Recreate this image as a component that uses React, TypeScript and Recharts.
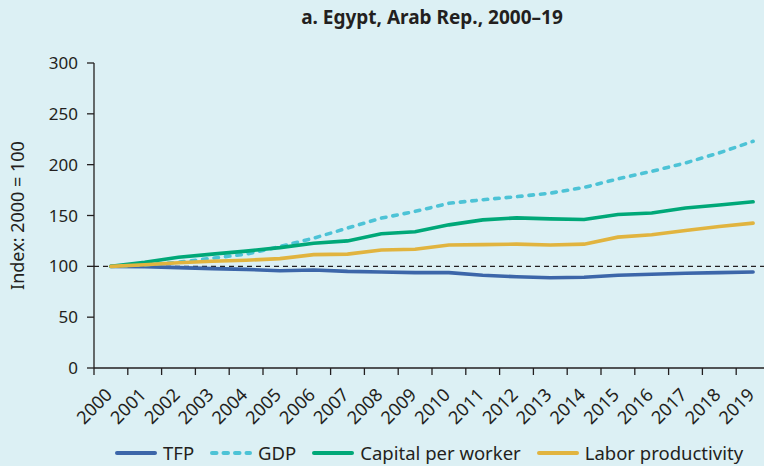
import { CartesianGrid, Legend, Line, LineChart, ReferenceLine, XAxis, YAxis } from "recharts"

const years = [
  "2000", "2001", "2002", "2003", "2004", "2005", "2006", "2007", "2008", "2009",
  "2010", "2011", "2012", "2013", "2014", "2015", "2016", "2017", "2018", "2019",
]

const tfp = [100, 99.7, 98.7, 97.7, 97, 95.7, 96.4, 95, 94.4, 93.8, 93.8, 91.2, 89.8, 88.8, 89.2, 91.2, 92.2, 93.2, 93.8, 94.4]
const gdp = [100, 101.5, 104, 108, 112, 119.4, 127.7, 137.6, 147.4, 154, 162, 165.5, 168.5, 172, 177.6, 186, 193.4, 201.7, 211.6, 223]
const capital = [100, 104, 109, 112, 115, 118.4, 122.7, 125, 132, 134, 140.8, 145.7, 147.7, 146.7, 146, 151, 152.4, 157.3, 160.3, 163.5]
const labor = [100, 101.6, 103.6, 105, 106, 107.6, 111.5, 112, 116, 116.8, 121, 121.4, 121.8, 121, 121.8, 128.7, 131, 135.2, 139.2, 142.5]

const yTicks = [0, 50, 100, 150, 200, 250, 300]

const series = [
  { key: "tfp", name: "TFP", color: "#3c66a9", dash: undefined },
  { key: "gdp", name: "GDP", color: "#4dc3d6", dash: "4.5 7" },
  { key: "capital", name: "Capital per worker", color: "#00a878", dash: undefined },
  { key: "labor", name: "Labor productivity", color: "#e1b43f", dash: undefined },
]

const data = years.map((year, i) => ({
  year,
  tfp: tfp[i],
  gdp: gdp[i],
  capital: capital[i],
  labor: labor[i],
}))

const BG = "#dcf0f4"
const INK = "#231f20"
const FONT = "'Noto Sans', sans-serif"
const PLOT_W = 676
const bw = PLOT_W / years.length

function YearTick(props: any) {
  const { x, y, payload } = props
  const tx = x + 2.5
  const ty = y + 20
  return (
    <g>
      <line x1={x - bw / 2} y1={y - 8} x2={x - bw / 2} y2={y - 1} stroke={INK} strokeWidth={1.3} />
      <text
        x={tx}
        y={ty}
        textAnchor="end"
        transform={`rotate(-45, ${tx}, ${ty})`}
        fill={INK}
        fontSize={18}
        fontFamily={FONT}
      >
        {payload.value}
      </text>
    </g>
  )
}

function YLabel(props: any) {
  const { viewBox } = props
  const cx = viewBox.x + 17
  const cy = viewBox.y + viewBox.height / 2
  return (
    <text
      x={cx}
      y={cy}
      textAnchor="middle"
      dominantBaseline="central"
      transform={`rotate(-90, ${cx}, ${cy})`}
      fill={INK}
      fontSize={18}
      fontFamily={FONT}
    >
      Index: 2000 = 100
    </text>
  )
}

function LegendContent() {
  return (
    <div
      style={{
        display: "flex",
        alignItems: "center",
        paddingLeft: 115,
        paddingTop: 4,
        fontFamily: FONT,
        fontSize: 18.5,
        color: INK,
      }}
    >
      {series.map((s) => (
        <div key={s.key} style={{ display: "flex", alignItems: "center", marginRight: 16 }}>
          <svg width={42} height={8} style={{ marginRight: 6 }}>
            <line
              x1={2}
              y1={4}
              x2={40}
              y2={4}
              stroke={s.color}
              strokeWidth={4}
              strokeLinecap="round"
              strokeDasharray={s.dash}
            />
          </svg>
          <span>{s.name}</span>
        </div>
      ))}
    </div>
  )
}

export default function App() {
  return (
    <div
      style={{
        position: "absolute",
        left: 0,
        top: 0,
        width: 764,
        height: 466,
        overflow: "hidden",
        background: BG,
      }}
    >
      <div
        style={{
          position: "absolute",
          top: 4,
          left: 232,
          width: 400,
          textAlign: "center",
          fontFamily: FONT,
          fontWeight: 700,
          fontSize: 19,
          color: INK,
        }}
      >
        a. Egypt, Arab Rep., 2000–19
      </div>
      <LineChart width={780} height={466} data={data} margin={{ top: 63, right: 10, bottom: 0, left: 0 }}>
        <CartesianGrid stroke="none" fill="none" />
        <XAxis
          dataKey="year"
          scale="band"
          interval={0}
          height={68}
          axisLine={{ stroke: INK, strokeWidth: 1.3 }}
          tickLine={false}
          tick={<YearTick />}
        />
        <YAxis
          domain={[0, 300]}
          ticks={yTicks}
          width={94}
          axisLine={{ stroke: INK, strokeWidth: 1.3 }}
          tickLine={{ stroke: INK, strokeWidth: 1.3 }}
          tickSize={7}
          tickMargin={9}
          tick={{ fill: INK, fontSize: 17, fontFamily: FONT }}
          label={<YLabel />}
        />
        <ReferenceLine y={100} stroke={INK} strokeWidth={1.2} strokeDasharray="5 4" />
        {series.map((s) => (
          <Line
            key={s.key}
            dataKey={s.key}
            name={s.name}
            type="linear"
            stroke={s.color}
            strokeWidth={3.6}
            strokeDasharray={s.dash}
            strokeLinecap="round"
            dot={false}
            isAnimationActive={false}
          />
        ))}
        <Legend verticalAlign="bottom" height={30} content={<LegendContent />} />
      </LineChart>
    </div>
  )
}
